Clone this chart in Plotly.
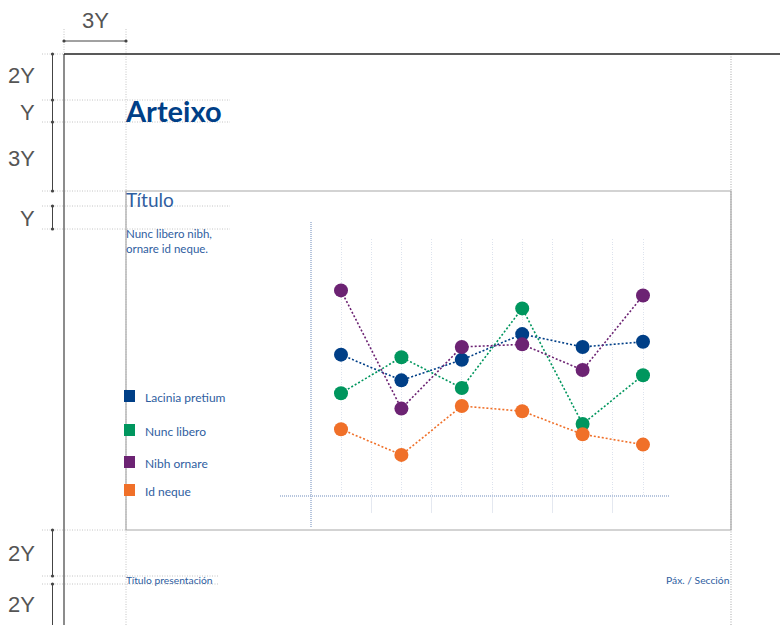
import plotly.graph_objects as go

W, H = 780, 625

categories = ["C1", "C2", "C3", "C4", "C5", "C6"]
series_names = ["Lacinia pretium", "Nunc libero", "Nibh ornare", "Id neque"]
lacinia = [55, 45, 53, 63, 58, 60]
nunc = [40, 54, 42, 73, 28, 47]
nibh = [80, 34, 58, 59, 49, 78]
idneque = [26, 16, 35, 33, 24, 20]
series_values = [lacinia, nunc, nibh, idneque]
colors = ["#003F87", "#00965E", "#6C2373", "#F07029"]

TEXT_BLUE = "#2F5E9F"
DIM_GRAY = "#555555"
GUIDE = "#c4c4c4"


def px(x):
    return x / W


def py(y):
    return 1 - y / H


fig = go.Figure()

xs = list(range(len(categories)))
for name, vals, col in zip(series_names, series_values, colors):
    fig.add_trace(go.Scatter(
        x=xs, y=vals, name=name, mode="lines+markers",
        line=dict(color=col, width=1.6, dash="2px,2px"),
        marker=dict(color=col, size=14),
        showlegend=False, hoverinfo="skip",
    ))

shapes = []


def line(x0, y0, x1, y1, color, width=1, dash="solid"):
    shapes.append(dict(type="line", xref="paper", yref="paper",
                       x0=px(x0), y0=py(y0), x1=px(x1), y1=py(y1),
                       line=dict(color=color, width=width, dash=dash)))


def dot(x, y, r=1.6, color="#444"):
    shapes.append(dict(type="circle", xref="paper", yref="paper",
                       x0=px(x - r), y0=py(y - r), x1=px(x + r), y1=py(y + r),
                       fillcolor=color, line=dict(width=0)))


GD = "1px,1.5px"
# dotted guides (horizontal)
for y, x1 in [(54, 64), (100, 230), (122, 230), (191, 126), (206, 230), (229, 230),
              (530, 126), (576, 218), (584, 218)]:
    line(42, y, x1, y, GUIDE, 1, GD)
# dotted guides (vertical)
line(64, 29, 64, 54, GUIDE, 1, GD)
line(126, 29, 126, 625, GUIDE, 1, GD)
line(731, 54, 731, 625, GUIDE, 1.5, GD)

# page frame
line(64, 54, 64, 625, "#666666", 1.5)
line(64, 54, 780, 54, "#222222", 1.5)

# content box
shapes.append(dict(type="rect", xref="paper", yref="paper",
                   x0=px(126), y0=py(191), x1=px(731), y1=py(530),
                   line=dict(color="#a8a8a8", width=1.2)))

# dimension lines
line(64, 41, 126, 41, "#444444", 1)
dot(64, 41)
dot(126, 41)
for y0, y1 in [(54, 191), (206, 229), (530, 576), (584, 625)]:
    line(52.5, y0, 52.5, y1, "#444444", 1)
for y in [54, 100, 122, 191, 206, 229, 530, 576, 584]:
    dot(52.5, y)

# chart axes (dotted)
line(311, 222, 311, 528, "#9fb2d2", 1.5, "1px,1px")
line(280, 496, 670, 496, "#9fb2d2", 1.5, "1px,1px")

# legend squares
legend_y = [396, 430, 462, 490]
for col, y in zip(colors, legend_y):
    shapes.append(dict(type="rect", xref="paper", yref="paper",
                       x0=px(124), y0=py(y - 6), x1=px(135), y1=py(y + 6),
                       fillcolor=col, line=dict(width=0)))

annotations = []


def text(x, y, s, size, color, xanchor="left", family="Lato", yanchor="middle"):
    annotations.append(dict(xref="paper", yref="paper", x=px(x), y=py(y), text=s,
                            showarrow=False, xanchor=xanchor, yanchor=yanchor, align=xanchor,
                            font=dict(size=size, color=color, family=family)))


DIMF = "Liberation Sans"
text(95, 20, "3Y", 22, DIM_GRAY, "center", DIMF)
text(37, 75, "2Y", 22, DIM_GRAY, "right", DIMF)
text(37, 112, "Y", 22, DIM_GRAY, "right", DIMF)
text(37, 158, "3Y", 22, DIM_GRAY, "right", DIMF)
text(37, 218, "Y", 22, DIM_GRAY, "right", DIMF)
text(37, 553, "2Y", 22, DIM_GRAY, "right", DIMF)
text(37, 604, "2Y", 22, DIM_GRAY, "right", DIMF)

text(123, 111, "<b>Arteixo</b>", 29, "#003F87", "left", "Lato")
text(124, 199, "Título", 19, TEXT_BLUE, "left", "Lato")
text(124, 241, "Nunc libero nibh,<br>ornare id neque.", 11.5, TEXT_BLUE, "left", "Lato")
for name, y in zip(series_names, legend_y):
    text(143, y + 1, name, 12, TEXT_BLUE, "left", "Lato")
text(124, 580, "Título presentación", 10.3, TEXT_BLUE, "left", "Lato")
text(732, 580, "Páx. / Sección", 10.3, TEXT_BLUE, "right", "Lato")

x0_pix, step = 341, 60.4
fig.update_layout(
    width=W, height=H,
    margin=dict(l=0, r=0, t=0, b=0),
    paper_bgcolor="white", plot_bgcolor="rgba(0,0,0,0)",
    shapes=shapes, annotations=annotations,
    xaxis=dict(domain=[px(290), px(660)],
               range=[(290 - x0_pix) / step, (660 - x0_pix) / step],
               tickmode="array", tickvals=xs, showticklabels=False, ticks="",
               showgrid=True, gridcolor="#dde3ee", gridwidth=1, griddash="1px,1.5px",
               zeroline=False, showline=False,
               minor=dict(tickmode="array", tickvals=[i + 0.5 for i in xs[:-1]],
                          showgrid=True, gridcolor="#dde3ee", gridwidth=1, griddash="1px,1.5px",
                          ticks="outside", ticklen=16, tickcolor="#e4e8f0", tickwidth=1)),
    yaxis=dict(domain=[py(496), py(239)], range=[0, 100], visible=True,
               showticklabels=False, showgrid=False, zeroline=False, showline=False, ticks=""),
    showlegend=False,
)

fig.write_html("out.html", config={"displayModeBar": False},
               post_script="document.body.style.margin='0';")
